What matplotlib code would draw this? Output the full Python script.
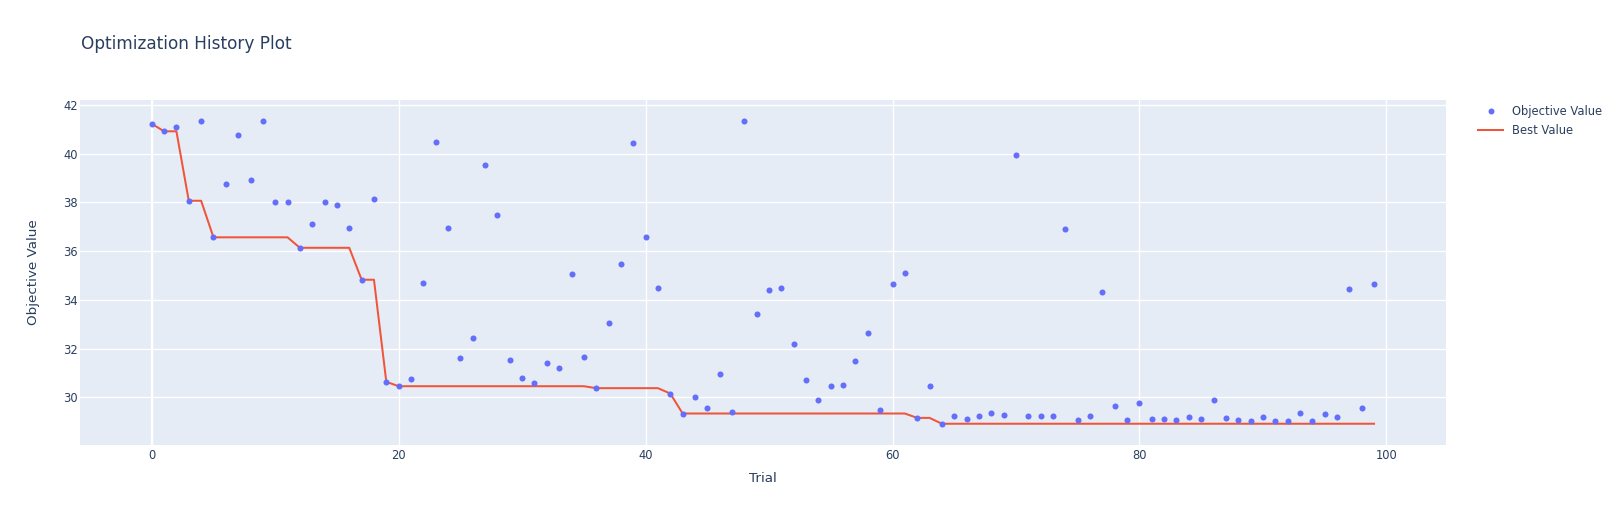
import numpy as np
import matplotlib.pyplot as plt
from matplotlib.lines import Line2D

# objective value of each trial
trials = list(range(100))
objective = [
    41.23, 40.92, 41.11, 38.07, 41.36, 36.57, 38.77, 40.78, 38.91, 41.33,
    38.02, 38.02, 36.14, 37.13, 38.02, 37.89, 36.95, 34.83, 38.15, 30.64,
    30.46, 30.74, 34.71, 40.47, 36.94, 31.63, 32.45, 39.52, 37.50, 31.52,
    30.79, 30.60, 31.40, 31.22, 35.05, 31.64, 30.38, 33.06, 35.47, 40.45,
    36.58, 34.49, 30.16, 29.34, 30.00, 29.55, 30.96, 29.40, 41.33, 33.43,
    34.42, 34.49, 32.19, 30.72, 29.90, 30.48, 30.49, 31.49, 32.63, 29.49,
    34.64, 35.09, 29.16, 30.46, 28.92, 29.25, 29.12, 29.23, 29.37, 29.27,
    39.96, 29.22, 29.22, 29.25, 36.92, 29.07, 29.22, 34.34, 29.63, 29.07,
    29.78, 29.12, 29.11, 29.08, 29.18, 29.10, 29.89, 29.15, 29.07, 29.04,
    29.19, 29.04, 29.04, 29.36, 29.04, 29.32, 29.19, 34.43, 29.56, 34.65,
]
# best value so far (running minimum of the objective)
best = np.minimum.accumulate(objective)

x_ticks = [0, 20, 40, 60, 80, 100]
y_ticks = [30, 32, 34, 36, 38, 40, 42]

TEXT = '#2a3f5f'
plt.rcParams['font.family'] = ['DejaVu Sans']

W, H = 1624, 525
fig = plt.figure(figsize=(W / 100, H / 100), dpi=100)
ax = fig.add_axes([80 / W, 1 - 444.7 / H, (1446 - 80) / W, (444.7 - 100) / H])
ax.set_facecolor('#E5ECF6')
for s in ax.spines.values():
    s.set_visible(False)

ax.set_xlim(-5.81, 104.83)
ax.set_ylim(28.06, 42.205)
ax.set_xticks(x_ticks)
ax.set_yticks(y_ticks)
ax.grid(True, color='white', linewidth=1)
ax.set_axisbelow(True)
ax.axvline(0, color='white', linewidth=1.6, zorder=0.9)
ax.tick_params(length=0, labelsize=8.3, labelcolor=TEXT)
ax.tick_params(axis='x', pad=3)
ax.tick_params(axis='y', pad=1.5)

ax.scatter(trials, objective, s=19, color='#636efa', linewidths=0,
           zorder=3, label='Objective Value')
ax.plot(trials, best, color='#EF553B', linewidth=1.45, zorder=2,
        label='Best Value')

ax.set_xlabel('Trial', fontsize=9.7, color=TEXT)
ax.xaxis.set_label_coords(0.5, (444.7 - 478.5) / 344.7)
ax.xaxis.label.set_va('center')
ax.set_ylabel('Objective Value', fontsize=9.7, color=TEXT)
ax.yaxis.set_label_coords((34 - 80) / 1366, 0.5)
ax.yaxis.label.set_va('center')

fig.text(81 / W, 1 - 44 / H, 'Optimization History Plot', fontsize=12.2,
         color=TEXT, va='center', ha='left')

handles = [
    Line2D([], [], linestyle='none', marker='o', markersize=4.3,
           markerfacecolor='#636efa', markeredgewidth=0),
    Line2D([], [], color='#EF553B', linewidth=1.45),
]
leg = ax.legend(handles, ['Objective Value', 'Best Value'],
                loc='upper left', bbox_to_anchor=(1478 / W, 1 - 105 / H),
                bbox_transform=fig.transFigure, frameon=False,
                fontsize=8.3, handlelength=2.2, handletextpad=0.75,
                labelspacing=0.5, borderpad=0, borderaxespad=0)
for t in leg.get_texts():
    t.set_color(TEXT)

fig.savefig('out.png', dpi=100)
